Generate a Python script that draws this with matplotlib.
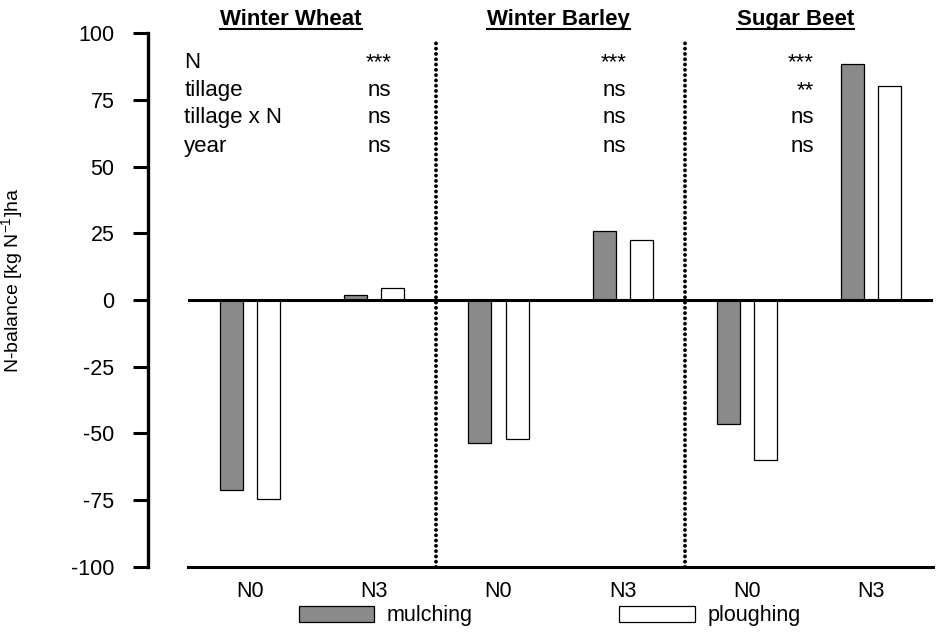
import numpy as np
import matplotlib
matplotlib.use("Agg")
import matplotlib.pyplot as plt
from matplotlib.lines import Line2D
from matplotlib.patches import Patch

plt.rcParams['font.family'] = ['Liberation Sans', 'DejaVu Sans']
plt.rcParams['axes.unicode_minus'] = False
plt.rcParams['mathtext.fontset'] = 'custom'
plt.rcParams['mathtext.rm'] = 'Liberation Sans'

# --- data ---
crops = ['Winter Wheat', 'Winter Barley', 'Sugar Beet']
n_levels = ['N0', 'N3']
mulching = [-71, 2, -53.5, 26, -46.5, 88.5]
ploughing = [-74.5, 4.5, -52, 22.5, -60, 80]

stat_rows = ['N', 'tillage', 'tillage x N', 'year']
stat_ww = ['***', 'ns', 'ns', 'ns']
stat_wb = ['***', 'ns', 'ns', 'ns']
stat_sb = ['***', '**', 'ns', 'ns']

# --- figure ---
fig = plt.figure(figsize=(9.36, 6.36), dpi=100)
ax = fig.add_axes([0.2009, 0.1085, 0.796, 0.8396])

x = np.arange(len(crops) * len(n_levels)) + 0.5
mulch_col = '#8a8a8a'
ax.bar(x - 0.15, mulching, width=0.185, color=mulch_col, edgecolor='black', lw=0.9, zorder=2)
ax.bar(x + 0.15, ploughing, width=0.185, color='white', edgecolor='black', lw=0.9, zorder=2)

ax.axhline(0, color='black', lw=2.2, zorder=3)
for xd in [2, 4]:
    ax.vlines(xd, -100, 97.5, colors='black', linestyles=(0, (0.01, 1.35)),
              lw=2.8, zorder=4, capstyle='round')

ax.set_xlim(0, 6)
ax.set_ylim(-100, 100)
ax.set_yticks(np.arange(-100, 101, 25))
ax.set_xticks(x)
ax.set_xticklabels(n_levels * len(crops))

for s in ['top', 'right']:
    ax.spines[s].set_visible(False)
ax.spines['left'].set_position(('outward', 29))
ax.spines['left'].set_linewidth(2.4)
ax.spines['bottom'].set_linewidth(2.2)
ax.tick_params(axis='y', length=11, width=2.2, pad=13, labelsize=15.5)
ax.tick_params(axis='x', length=0, pad=10, labelsize=15.5)

ax.set_ylabel(r'N-balance [kg N$^{\mathregular{-1}}$]ha', fontsize=14)
ax.yaxis.set_label_coords(-0.2175, 0.537)

# panel titles
title_x = [0.83, 2.98, 4.89]
titles = []
for tx, name in zip(title_x, crops):
    t = ax.text(tx, 105, name, ha='center', va='center', fontsize=16,
                fontweight='bold', clip_on=False)
    titles.append(t)

# statistics table
row_y = [89, 78.5, 68.5, 57.5]
for ry, lab in zip(row_y, stat_rows):
    ax.text(-0.03, ry, lab, ha='left', va='center', fontsize=16)
for sx, col in zip([1.637, 3.53, 5.04], [stat_ww, stat_wb, stat_sb]):
    for ry, val in zip(row_y, col):
        ax.text(sx, ry, val, ha='right', va='center', fontsize=16)

# legend
handles = [Patch(facecolor=mulch_col, edgecolor='black', lw=0.9, label='mulching'),
           Patch(facecolor='white', edgecolor='black', lw=0.9, label='ploughing')]
fig.legend(handles=handles, loc='center left', bbox_to_anchor=(288 / 936, 1 - 616 / 636),
           ncol=2, frameon=False, borderpad=0, handlelength=3.5, handleheight=0.75,
           handletextpad=0.6, columnspacing=6.8, fontsize=15.5)

# underline the titles
fig.canvas.draw()
r = fig.canvas.get_renderer()
W, H = fig.bbox.width, fig.bbox.height
for t in titles:
    bb = t.get_window_extent(r)
    yy = (bb.y0 + 1) / H
    fig.add_artist(Line2D([bb.x0 / W, bb.x1 / W], [yy, yy], color='black', lw=1.5,
                          transform=fig.transFigure))

fig.savefig('out.png', dpi=100)
